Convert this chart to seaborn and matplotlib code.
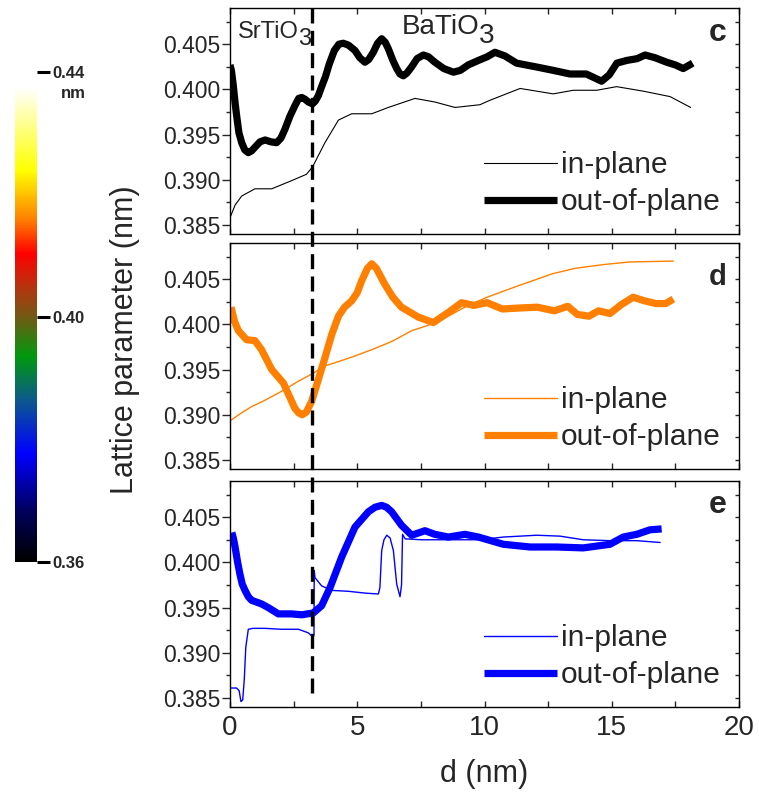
import matplotlib
matplotlib.use("Agg")
import matplotlib.pyplot as plt
import matplotlib.transforms as mtransforms
from matplotlib.colors import LinearSegmentedColormap, Normalize
from matplotlib.cm import ScalarMappable
from matplotlib.lines import Line2D
from matplotlib.ticker import MultipleLocator
import pandas as pd
import seaborn as sns

# ---------------- data ----------------
# position of the SrTiO3 / BaTiO3 interface (nm)
interface_d = 3.23

# panel c (black)
c_out_d = [0.00, 0.06, 0.13, 0.20, 0.26, 0.35, 0.46, 0.58, 0.72, 0.85, 0.98, 1.18, 1.38,
           1.60, 1.83, 2.00, 2.16, 2.35, 2.55, 2.70, 2.82, 2.95, 3.08, 3.24, 3.35, 3.47,
           3.60, 3.75, 3.90, 4.10, 4.28, 4.45, 4.65, 4.91, 5.10, 5.30, 5.45, 5.63, 5.80,
           5.96, 6.10, 6.22, 6.40, 6.55, 6.68, 6.81, 6.95, 7.14, 7.35, 7.60, 7.80, 8.05,
           8.40, 8.78, 9.05, 9.36, 9.76, 10.10, 10.41, 10.80, 11.26, 12.00, 12.70, 13.36,
           14.00, 14.30, 14.60, 14.90, 15.20, 15.59, 16.00, 16.31, 16.70, 17.16, 17.50,
           17.81, 18.18]
c_out_v = [0.4027, 0.4020, 0.4004, 0.3985, 0.3971, 0.3952, 0.3941, 0.3933, 0.3930, 0.3932,
           0.3936, 0.3942, 0.3944, 0.3942, 0.3941, 0.3946, 0.3956, 0.3970, 0.3982, 0.3990,
           0.3991, 0.3989, 0.3986, 0.3984, 0.3987, 0.3993, 0.4003, 0.4014, 0.4028, 0.4043,
           0.4050, 0.4051, 0.4049, 0.4043, 0.4035, 0.4030, 0.4033, 0.4041, 0.4051, 0.4056,
           0.4052, 0.4045, 0.4032, 0.4023, 0.4017, 0.4015, 0.4018, 0.4025, 0.4034, 0.4038,
           0.4036, 0.4030, 0.4023, 0.4019, 0.4021, 0.4027, 0.4032, 0.4036, 0.4041, 0.4037,
           0.4029, 0.4025, 0.4021, 0.4017, 0.4017, 0.4013, 0.4009, 0.4016, 0.4029, 0.4032,
           0.4034, 0.4038, 0.4035, 0.4030, 0.4027, 0.4023, 0.4029]
c_in_d = [0.00, 0.20, 0.46, 0.98, 1.64, 2.42, 3.00, 3.24, 3.73, 4.26, 4.78, 5.57, 6.22,
          7.27, 8.05, 8.84, 9.82, 10.22, 11.40, 12.70, 13.49, 14.41, 15.19, 16.24, 17.29, 18.10]
c_in_v = [0.3858, 0.3872, 0.3882, 0.3890, 0.3890, 0.3899, 0.3906, 0.3914, 0.3941, 0.3966,
          0.3973, 0.3973, 0.3980, 0.3990, 0.3986, 0.3980, 0.3983, 0.3988, 0.4001, 0.3995,
          0.3999, 0.3999, 0.4003, 0.3998, 0.3992, 0.3980]

# panel d (orange)
d_out_d = [0.04, 0.18, 0.33, 0.65, 0.98, 1.24, 1.64, 2.10, 2.55, 2.70, 2.84, 3.00, 3.21,
           3.45, 3.73, 4.00, 4.26, 4.50, 4.78, 5.00, 5.17, 5.40, 5.57, 5.75, 6.09, 6.40,
           6.74, 7.40, 7.99, 8.57, 9.10, 9.58, 10.10, 10.70, 11.30, 12.07, 12.75, 13.27,
           13.65, 14.10, 14.48, 14.93, 15.38, 15.84, 16.29, 16.74, 17.12, 17.42]
d_out_v = [0.4019, 0.4003, 0.3993, 0.3983, 0.3982, 0.3972, 0.3950, 0.3935, 0.3907, 0.3902,
           0.3900, 0.3903, 0.3915, 0.3937, 0.3963, 0.3989, 0.4009, 0.4019, 0.4026, 0.4035,
           0.4048, 0.4062, 0.4067, 0.4062, 0.4044, 0.4030, 0.4019, 0.4008, 0.4002, 0.4013,
           0.4024, 0.4021, 0.4024, 0.4017, 0.4018, 0.4019, 0.4015, 0.4020, 0.4011, 0.4009,
           0.4015, 0.4012, 0.4022, 0.4030, 0.4026, 0.4023, 0.4023, 0.4028]
d_in_d = [0.04, 0.45, 0.85, 1.37, 2.03, 2.68, 3.21, 3.73, 4.39, 4.91, 5.57, 6.35, 7.14,
          7.79, 8.57, 9.23, 10.10, 11.16, 12.67, 13.57, 14.63, 15.69, 17.42]
d_in_v = [0.3894, 0.3902, 0.3909, 0.3916, 0.3926, 0.3937, 0.3945, 0.3954, 0.3960, 0.3965,
          0.3972, 0.3981, 0.3993, 0.3999, 0.4009, 0.4019, 0.4030, 0.4041, 0.4056, 0.4062,
          0.4066, 0.4069, 0.4070]

# panel e (blue)
e_out_d = [0.07, 0.13, 0.20, 0.30, 0.39, 0.48, 0.59, 0.72, 0.85, 1.24, 1.50, 1.90, 2.42,
           2.82, 3.27, 3.60, 3.93, 4.39, 4.91, 5.44, 5.70, 5.96, 6.15, 6.35, 6.74, 7.14,
           7.66, 8.05, 8.58, 9.23, 9.76, 10.74, 11.79, 12.84, 13.88, 14.93, 15.45, 15.98,
           16.50, 16.96]
e_out_v = [0.4033, 0.4027, 0.4017, 0.4000, 0.3987, 0.3976, 0.3969, 0.3962, 0.3958, 0.3954,
           0.3950, 0.3943, 0.3943, 0.3942, 0.3944, 0.3952, 0.3972, 0.4006, 0.4039, 0.4056,
           0.4061, 0.4063, 0.4061, 0.4056, 0.4041, 0.4030, 0.4035, 0.4031, 0.4028, 0.4031,
           0.4028, 0.4020, 0.4017, 0.4017, 0.4016, 0.4020, 0.4028, 0.4031, 0.4036, 0.4037]
e_in_d = [0.04, 0.26, 0.36, 0.43, 0.50, 0.56, 0.62, 0.72, 0.90, 1.38, 2.00, 2.69, 3.08,
          3.27, 3.30, 3.31, 3.34, 3.60, 3.99, 4.65, 5.30, 5.83, 5.89, 5.96, 6.05, 6.16,
          6.29, 6.42, 6.55, 6.68, 6.74, 6.78, 6.88, 7.53, 8.58, 9.82, 10.74, 12.05, 12.97,
          13.88, 14.93, 15.98, 16.90]
e_in_v = [0.3861, 0.3861, 0.3858, 0.3846, 0.3848, 0.3870, 0.3906, 0.3926, 0.3927, 0.3927,
          0.3926, 0.3926, 0.3922, 0.3917, 0.3920, 0.3991, 0.3983, 0.3974, 0.3969, 0.3968,
          0.3966, 0.3965, 0.3972, 0.4013, 0.4025, 0.4030, 0.4027, 0.4013, 0.3976, 0.3962,
          0.3975, 0.4031, 0.4026, 0.4025, 0.4025, 0.4025, 0.4028, 0.4030, 0.4029, 0.4025,
          0.4024, 0.4024, 0.4022]

x_ticks = [0, 5, 10, 15, 20]
y_ticks = [0.385, 0.390, 0.395, 0.400, 0.405]
cbar_ticks = [0.36, 0.40, 0.44]
cbar_labels = ["0.36", "0.40", "0.44"]

panels = [
    ("c", "black", c_in_d, c_in_v, c_out_d, c_out_v),
    ("d", "#ff8000", d_in_d, d_in_v, d_out_d, d_out_v),
    ("e", "#0000ff", e_in_d, e_in_v, e_out_d, e_out_v),
]

# ---------------- style ----------------
sns.set_theme(style="ticks")
plt.rcParams["font.family"] = ["Liberation Sans", "DejaVu Sans"]
plt.rcParams["axes.linewidth"] = 1.0
plt.rcParams["axes.edgecolor"] = "black"

fig = plt.figure(figsize=(7.59, 7.93), dpi=100)

W, H = 759.0, 793.0
left, right = 230 / W, 739 / W
tops = [8, 243, 481]
ph = 226 / H

axes = []
for (letter, color, din, vin, dout, vout), top in zip(panels, tops):
    ax = fig.add_axes([left, 1 - top / H - ph, right - left, ph])
    axes.append(ax)
    df_in = pd.DataFrame({"d": din, "a": vin})
    df_out = pd.DataFrame({"d": dout, "a": vout})
    lw_in = 0.8 if color == "black" else 1.0
    sns.lineplot(data=df_in, x="d", y="a", ax=ax, color=color, lw=lw_in,
                 sort=False, estimator=None, label="in-plane",
                 solid_joinstyle="round")
    sns.lineplot(data=df_out, x="d", y="a", ax=ax, color=color, lw=5.2,
                 sort=False, estimator=None, label="out-of-plane",
                 solid_capstyle="butt", solid_joinstyle="round")
    ax.set_xlim(0, 20)
    ax.set_ylim(0.384, 0.409)
    ax.set_xticks(x_ticks)
    ax.xaxis.set_minor_locator(MultipleLocator(2.5))
    ax.set_yticks(y_ticks)
    ax.yaxis.set_minor_locator(MultipleLocator(0.0025))
    ax.set_yticklabels([f"{t:.3f}" for t in y_ticks], fontsize=16.5)
    ax.tick_params(axis="y", which="major", direction="out", length=6, width=1,
                   left=True, right=False, pad=1)
    ax.tick_params(axis="y", which="minor", direction="out", length=3, width=1,
                   left=True, right=False)
    ax.tick_params(axis="x", which="both", direction="in", length=4, width=1,
                   top=True, bottom=True)
    ax.set_xlabel("")
    ax.set_ylabel("")
    for side in ("top", "right"):
        ax.spines[side].set_visible(True)
    # inward ticks on the right spine
    secy = ax.secondary_yaxis("right")
    secy.set_yticks(y_ticks)
    secy.yaxis.set_minor_locator(MultipleLocator(0.0025))
    secy.tick_params(which="both", direction="in", length=3, width=1, labelright=False)
    secy.spines["right"].set_visible(False)

    leg = ax.legend(loc="lower right", frameon=False, fontsize=21.5,
                    handlelength=2.45, handletextpad=0.15, labelspacing=0.3,
                    borderaxespad=0.3, borderpad=0.3)
    for h in leg.legend_handles:
        h.set_color(color)

    fs = 21 if letter == "d" else 23
    ybase = {"c": 0.855, "d": 0.815, "e": 0.86}[letter]
    ax.text(0.975, ybase, letter, transform=ax.transAxes, ha="right", va="baseline",
            fontsize=fs, fontweight="bold")

for ax in axes[:-1]:
    ax.tick_params(axis="x", labelbottom=False)
axes[-1].set_xticklabels([str(t) for t in x_ticks], fontsize=20)
axes[-1].tick_params(axis="x", pad=6)
axes[-1].set_xlabel("d (nm)", fontsize=22, labelpad=13)

# layer names in panel c
ax_c = axes[0]
t1 = ax_c.text(0.016, 0.867, "SrTiO", transform=ax_c.transAxes, fontsize=17,
               va="baseline", ha="left")
ax_c.annotate("3", xy=(1, 0), xycoords=t1, xytext=(-1, -5), textcoords="offset points",
              fontsize=17, va="bottom", ha="left")
t2 = ax_c.text(0.338, 0.884, "BaTiO", transform=ax_c.transAxes, fontsize=20,
               va="baseline", ha="left")
ax_c.annotate("3", xy=(1, 0), xycoords=t2, xytext=(-1, -6), textcoords="offset points",
              fontsize=20, va="bottom", ha="left")

# interface marker across all panels
blend = mtransforms.blended_transform_factory(axes[-1].transData, fig.transFigure)
fig.add_artist(Line2D([interface_d, interface_d], [1 - 8 / H, 1 - 697 / H],
                      transform=blend, color="black", lw=2.4,
                      dashes=(4.5, 2.2)))

fig.text(125 / W, 1 - 340 / H, "Lattice parameter (nm)", rotation=90,
         ha="center", va="center", fontsize=22)

# colour scale
cmap = LinearSegmentedColormap.from_list("lattice", [
    (0.00, (0.0, 0.0, 0.0)),
    (0.10, (0.0, 0.0, 0.35)),
    (0.22, (0.0, 0.0, 1.0)),
    (0.33, (0.05, 0.35, 0.55)),
    (0.42, (0.0, 0.6, 0.05)),
    (0.50, (0.45, 0.35, 0.08)),
    (0.57, (0.75, 0.18, 0.05)),
    (0.63, (1.0, 0.0, 0.0)),
    (0.70, (1.0, 0.5, 0.0)),
    (0.80, (1.0, 1.0, 0.0)),
    (0.97, (1.0, 1.0, 1.0)),
    (1.00, (1.0, 1.0, 1.0)),
])
cax = fig.add_axes([15 / W, 1 - 562 / H, 22 / W, 490 / H])
cb = fig.colorbar(ScalarMappable(norm=Normalize(0.36, 0.44), cmap=cmap), cax=cax)
cb.outline.set_visible(False)
cb.set_ticks(cbar_ticks)
cb.set_ticklabels(cbar_labels)
cax.tick_params(direction="out", length=9, width=2.2, color="black", pad=2,
                labelsize=12)
for lab in cax.get_yticklabels():
    lab.set_fontweight("bold")
fig.text(73 / W, 1 - 94 / H, "nm", ha="center", va="center", fontsize=12,
         fontweight="bold")

fig.savefig("out.png", dpi=100)
